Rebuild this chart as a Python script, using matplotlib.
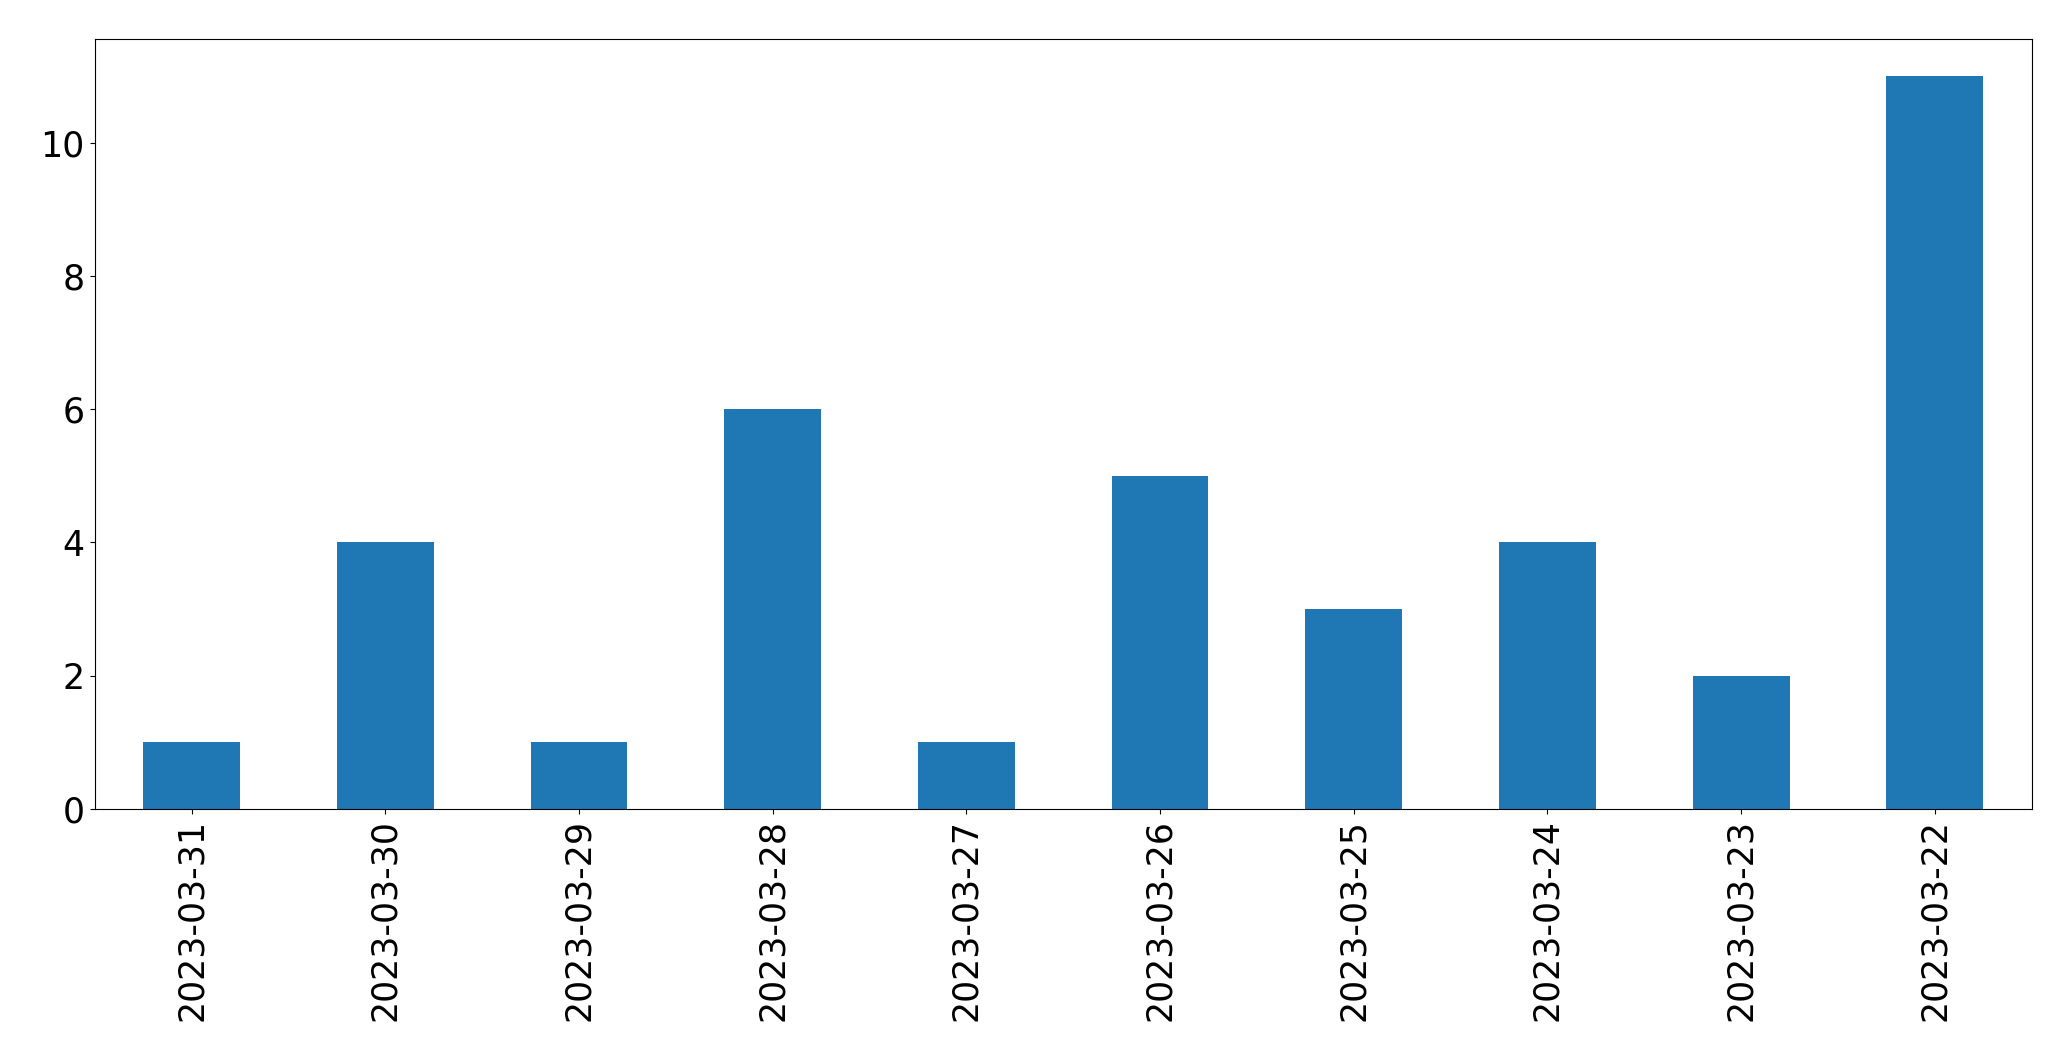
import pandas as pd
import matplotlib
matplotlib.use('Agg')
import matplotlib.pyplot as plt

dates = ['2023-03-31', '2023-03-30', '2023-03-29', '2023-03-28', '2023-03-27',
         '2023-03-26', '2023-03-25', '2023-03-24', '2023-03-23', '2023-03-22']
counts = [1, 4, 1, 6, 1, 5, 3, 4, 2, 11]

series = pd.Series(counts, index=dates)

fig = plt.figure(figsize=(20.71, 10.61), dpi=100)
ax = fig.add_axes([94.7 / 2071, 1 - 809 / 1061, (2031.7 - 94.7) / 2071, (809 - 39.3) / 1061])

# pandas bar plot, default width 0.5
series.plot(kind='bar', ax=ax, color='#1f77b4')

ax.tick_params(axis='both', labelsize=25, length=3.8)
ax.tick_params(axis='x', labelrotation=90)

plt.savefig('out.png', dpi=100)
